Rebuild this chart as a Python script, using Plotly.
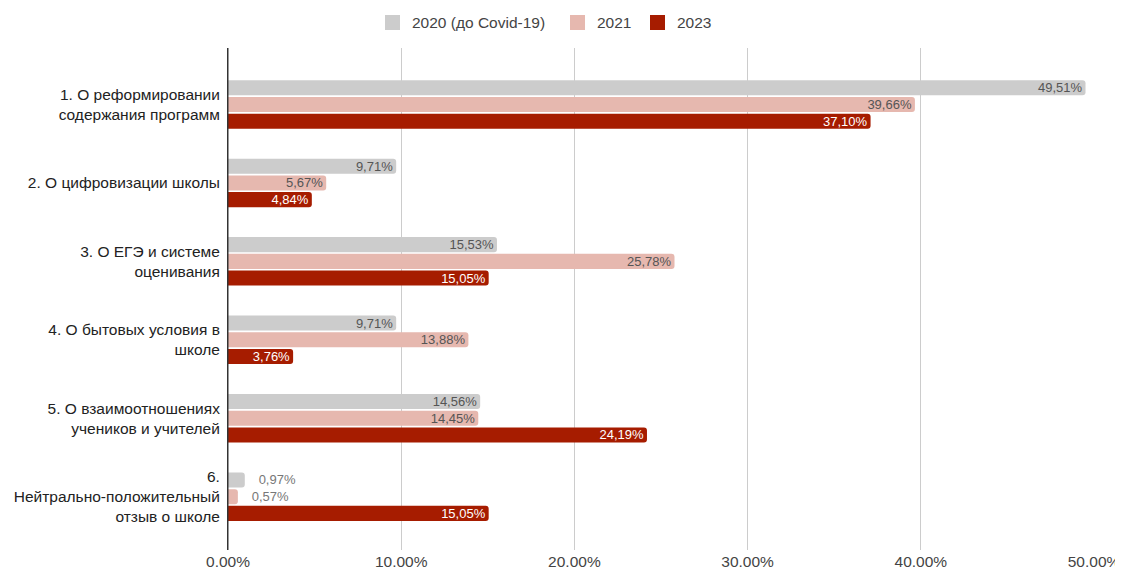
import plotly.graph_objects as go

categories = [
    "1. О реформировании<br>содержания программ",
    "2. О цифровизации школы",
    "3. О ЕГЭ и системе<br>оценивания",
    "4. О бытовых условия в<br>школе",
    "5. О взаимоотношениях<br>учеников и учителей",
    "6.<br>Нейтрально-положительный<br>отзыв о школе",
]
series_names = ["2020 (до Covid-19)", "2021", "2023"]
v2020 = [49.51, 9.71, 15.53, 9.71, 14.56, 0.97]
v2021 = [39.66, 5.67, 25.78, 13.88, 14.45, 0.57]
v2023 = [37.10, 4.84, 15.05, 3.76, 24.19, 15.05]
colors = ["#cccccc", "#e6b8af", "#a61c00"]
inside_text_colors = ["#555555", "#555555", "#ffffff"]
tick_vals = [0, 10, 20, 30, 40, 50]
tick_text = ["0.00%", "10.00%", "20.00%", "30.00%", "40.00%", "50.00%"]

FONT = "Arial, 'Liberation Sans', sans-serif"
OFF = 8  # page body margin offset
W, H = 1123, 570
L, R, T, B = 228 - OFF, W - 1094 + OFF, 48 - OFF, H - 550 + OFF
pw, ph = W - L - R, H - T - B


def px_to_paper_x(px):
    return (px - OFF - L) / pw


def px_to_paper_y(py):
    return (H - B - (py - OFF)) / ph


fig = go.Figure()
for name, vals, col, tcol in zip(series_names, [v2020, v2021, v2023], colors, inside_text_colors):
    inside = [v > 3 for v in vals]
    texts = [(f"{v:.2f}%" if ins else "\u00a0\u00a0\u00a0" + f"{v:.2f}%").replace(".", ",")
             for v, ins in zip(vals, inside)]
    pos = ["inside" if ins else "outside" for ins in inside]
    tcols = [tcol if ins else "#777777" for ins in inside]
    fig.add_trace(go.Bar(
        name=name, y=categories, x=vals, orientation="h",
        marker=dict(color=col, line=dict(width=0)),
        text=texts, textposition=pos, insidetextanchor="end",
        textfont=dict(color=tcols, size=13, family=FONT),
        outsidetextfont=dict(color=tcols, size=13, family=FONT),
        insidetextfont=dict(color=tcols, size=13, family=FONT),
        constraintext="none", cliponaxis=False, showlegend=False,
    ))

# custom legend (square swatches + labels), positions in reference pixels
legend_items = [(385, 412), (570, 597), (650, 677)]
shapes = []
annotations = []
for (sx, tx), name, col in zip(legend_items, series_names, colors):
    shapes.append(dict(type="rect", xref="paper", yref="paper",
                       x0=px_to_paper_x(sx), x1=px_to_paper_x(sx + 15),
                       y0=px_to_paper_y(30), y1=px_to_paper_y(15),
                       fillcolor=col, line=dict(width=0)))
    annotations.append(dict(xref="paper", yref="paper", x=px_to_paper_x(tx - 2), y=px_to_paper_y(22.5),
                            xanchor="left", yanchor="middle", showarrow=False, text=name,
                            font=dict(size=15.5, color="#444444", family=FONT)))
shapes.append(dict(type="line", xref="x", yref="paper", x0=0, x1=0, y0=0, y1=1,
                   line=dict(color="#333333", width=1)))

fig.update_layout(
    width=W, height=H,
    paper_bgcolor="white", plot_bgcolor="white",
    margin=dict(l=L, r=R, t=T, b=B, autoexpand=False),
    barmode="group", bargap=0.36, bargroupgap=0.1, barcornerradius=3,
    font=dict(family=FONT, size=15.5, color="#222222"),
    showlegend=False, shapes=shapes, annotations=annotations,
)
fig.update_xaxes(range=[0, 50], tickvals=tick_vals, ticktext=tick_text, automargin=False,
                 showgrid=True, gridcolor="#cccccc", gridwidth=1, zeroline=False,
                 showline=False, tickfont=dict(size=15.5, color="#444444", family=FONT), ticks="")
fig.update_yaxes(categoryorder="array", categoryarray=categories, range=[5.68, -0.72], automargin=False,
                 showline=True, linecolor="#333333", linewidth=1, ticks="",
                 ticklabelstandoff=4, tickfont=dict(size=15.5, color="#222222", family=FONT))
fig.write_html("out.html")
